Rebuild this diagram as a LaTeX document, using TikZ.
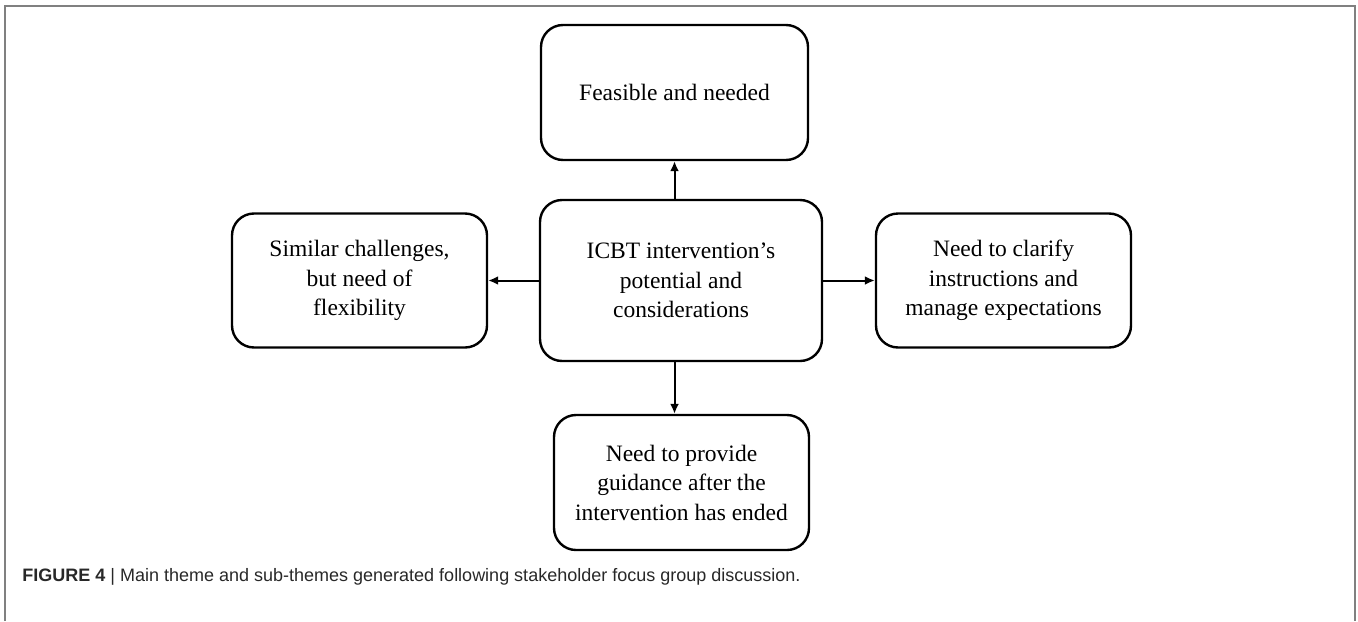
\documentclass[tikz,border=0pt]{standalone}
\usepackage{fontspec}
\setmainfont{Liberation Serif}
\newfontfamily\capfont{Liberation Sans}
\usepackage{tikz}
\usetikzlibrary{arrows.meta}
\definecolor{framegray}{RGB}{128,128,128}
\definecolor{captext}{RGB}{40,40,40}

\tikzset{
  theme/.style={draw, line width=1.2pt, rounded corners=11pt, align=center,
    font=\fontsize{11.75}{14.75}\selectfont, inner sep=0pt},
  link/.style={-{Latex[length=5pt,width=4.5pt]}, line width=1pt}
}

\begin{document}
\begin{tikzpicture}[x=0.5pt,y=-0.5pt]
\useasboundingbox (0,0) rectangle (1358,621);
% open frame round the figure
\draw[framegray, line width=0.8pt] (5,621) -- (5,6) -- (1355,6) -- (1355,621);

% main theme
\node[theme, minimum width=141pt, minimum height=80.5pt] (ctr) at (681,280.5)
  {ICBT intervention's\\potential and\\considerations};

% sub-themes
\node[theme, minimum width=133.5pt, minimum height=67.5pt] (top) at (674.5,92.5)
  {Feasible and needed};
\node[theme, minimum width=127.5pt, minimum height=67pt] (lft) at (359.5,280.5)
  {Similar challenges,\\but need of\\flexibility};
\node[theme, minimum width=127.5pt, minimum height=67pt] (rgt) at (1003.5,280.5)
  {Need to clarify\\instructions and\\manage expectations};
\node[theme, minimum width=127.5pt, minimum height=67.5pt] (bot) at (681.5,482.5)
  {Need to provide\\guidance after the\\intervention has ended};

\draw[link] (ctr.north -| top.south) -- (top.south);
\draw[link] (ctr.west) -- (ctr.west -| lft.east);
\draw[link] (ctr.east) -- (ctr.east -| rgt.west);
\draw[link] (ctr.south -| top.south) -- (bot.north -| top.south);

% caption
\node[anchor=west, font=\capfont\fontsize{9}{10}\selectfont, text=captext, inner sep=0pt] (cap) at (22,577)
  {\textbf{FIGURE 4} | Main theme and sub-themes generated following stakeholder focus group discussion.};
\end{tikzpicture}
\end{document}
